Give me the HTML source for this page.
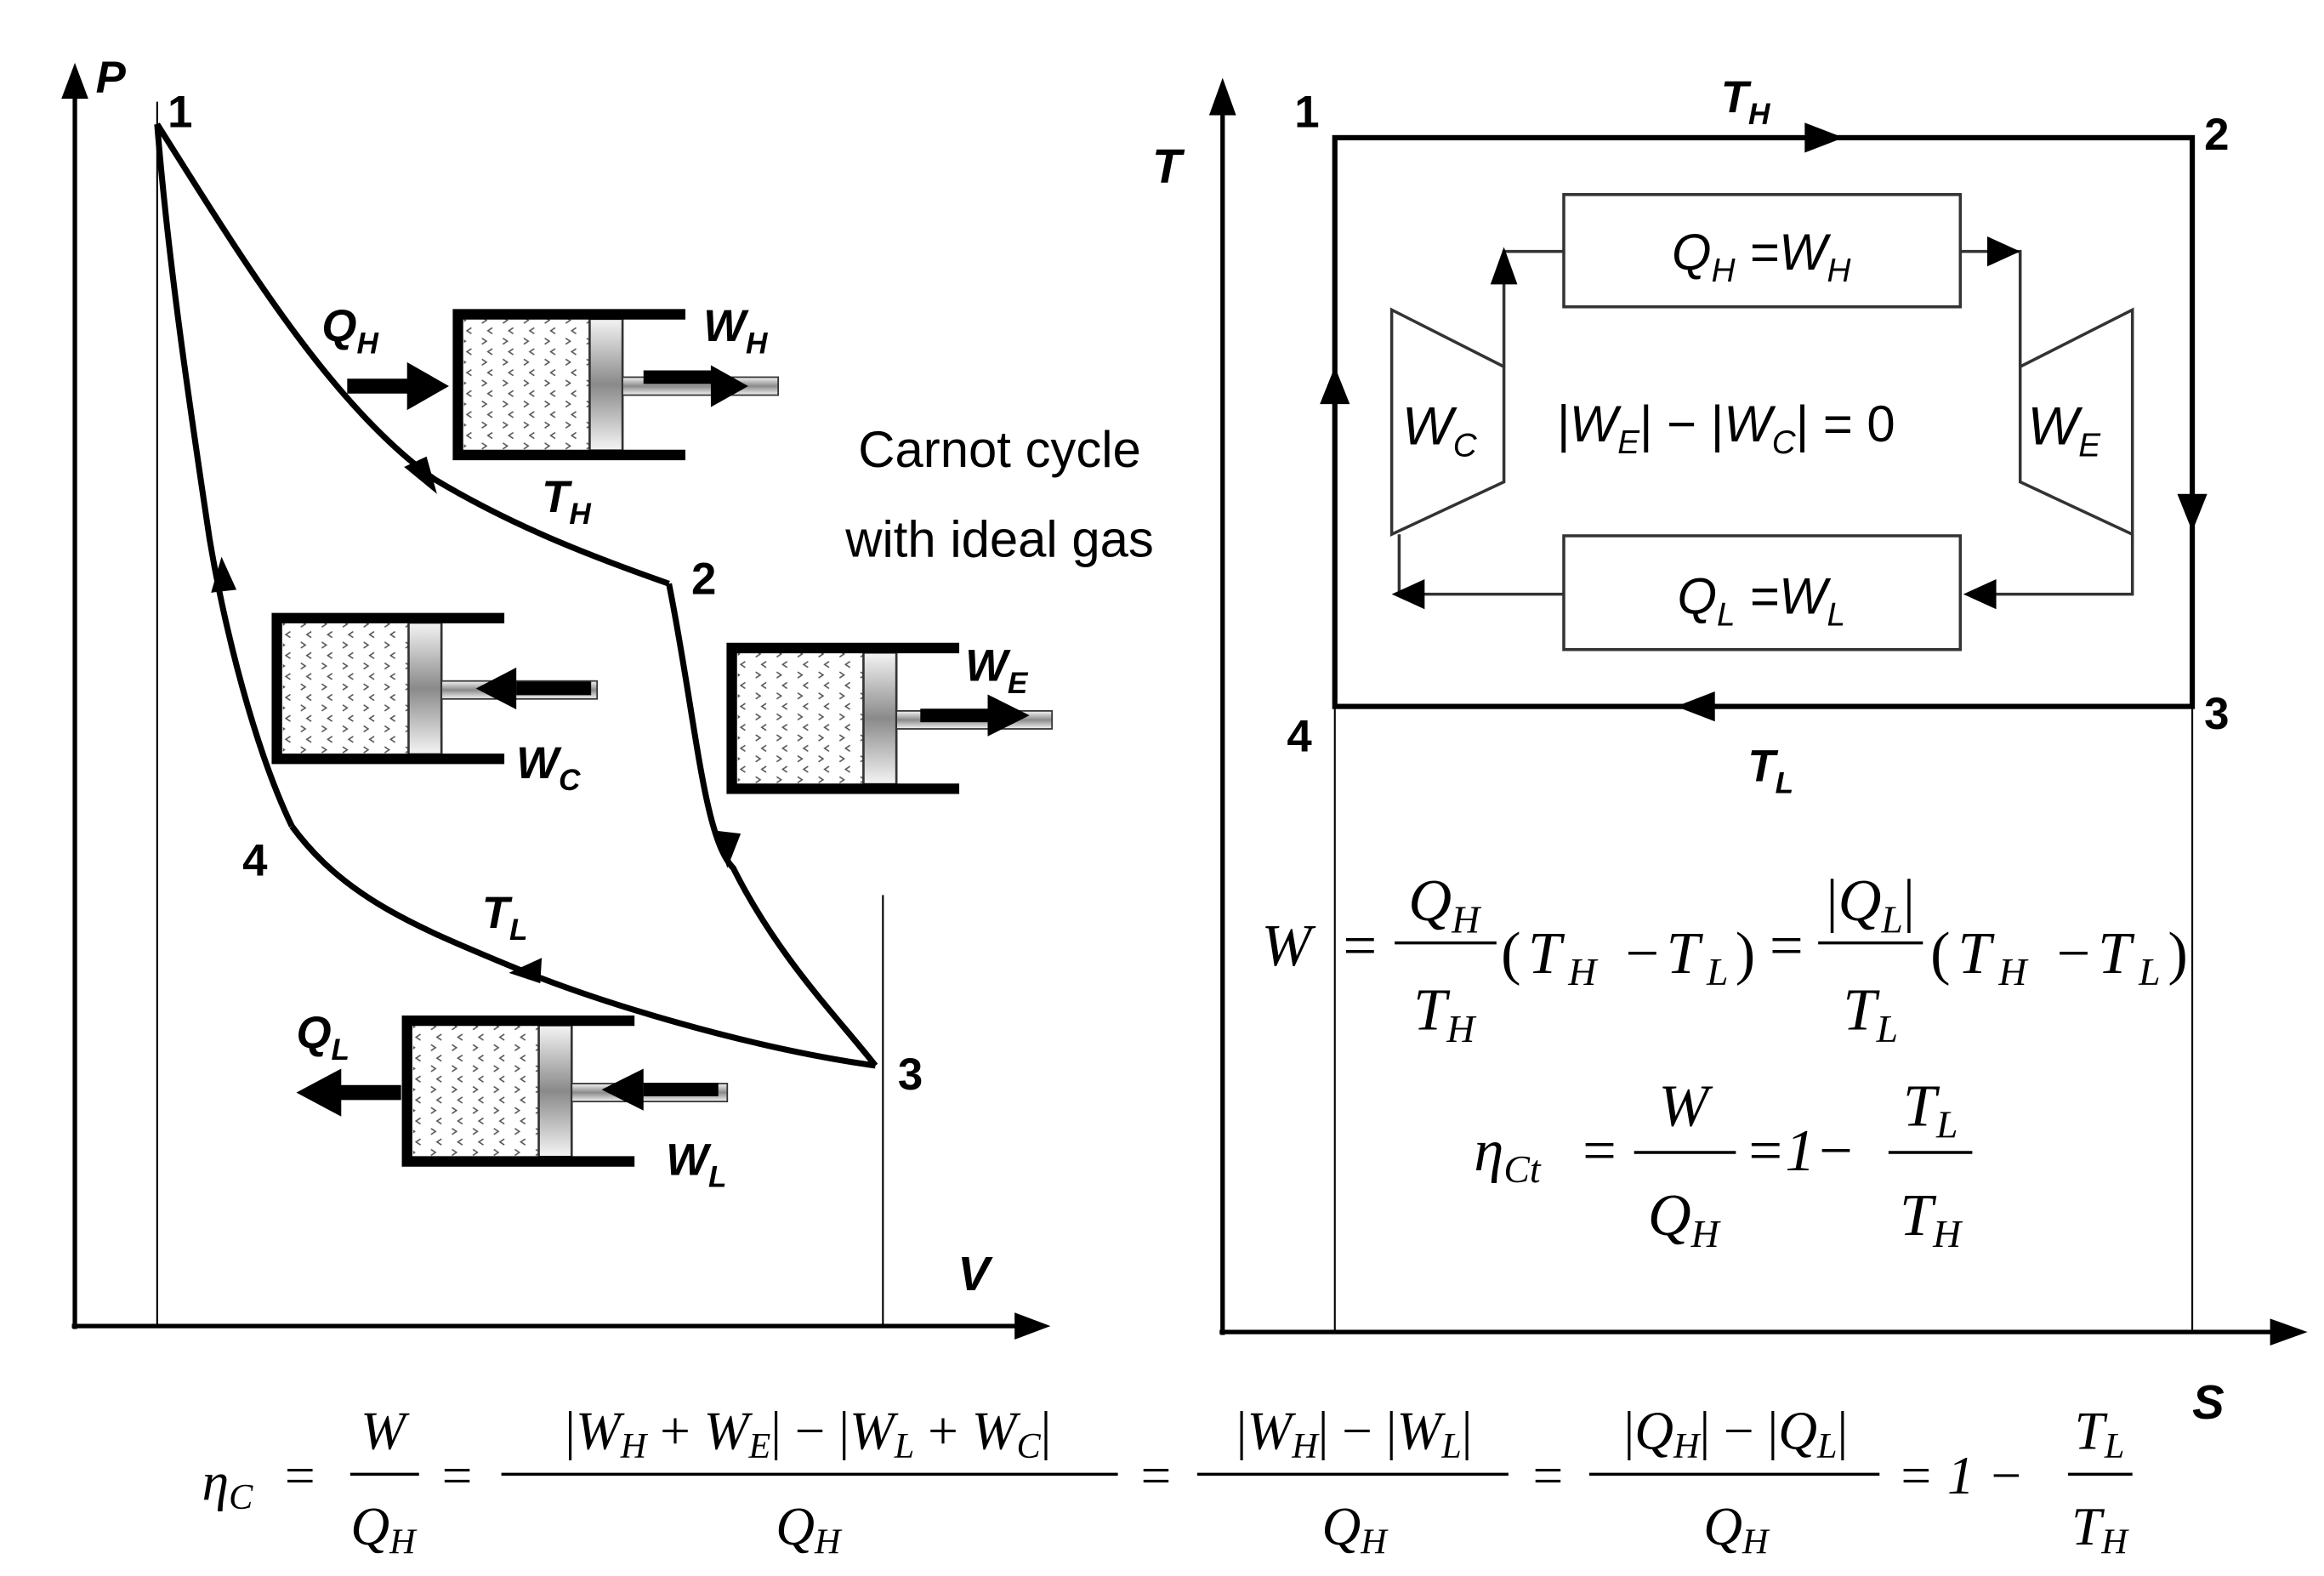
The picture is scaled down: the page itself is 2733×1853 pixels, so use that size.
<!DOCTYPE html>
<html><head><meta charset="utf-8"><style>
html,body{margin:0;padding:0;background:#fff;}
svg{display:block;}
.b{font-family:"Liberation Sans",sans-serif;font-weight:bold;font-style:italic;}
.s{font-family:"Liberation Sans",sans-serif;}
.m{font-family:"Liberation Serif",serif;font-style:italic;}
.r{font-family:"Liberation Serif",serif;}
</style></head><body>
<svg width="2733" height="1853" viewBox="0 0 1553 1053" xmlns="http://www.w3.org/2000/svg">
<defs>
<pattern id="gas" width="14" height="14" patternUnits="userSpaceOnUse">
<rect width="14" height="14" fill="#fff"/>
<path d="M2,2 l3,2 l-3,2 M9,9 l-3,2 l3,2" stroke="#555" stroke-width="0.9" fill="none"/>
</pattern>
<linearGradient id="pg" x1="0" y1="0" x2="0" y2="1">
<stop offset="0" stop-color="#f4f4f4"/><stop offset="0.5" stop-color="#8a8a8a"/><stop offset="1" stop-color="#f4f4f4"/>
</linearGradient>
<g id="cyl">
<rect x="4" y="3" width="84" height="88" fill="url(#gas)"/>
<rect x="88" y="3" width="22" height="88" fill="url(#pg)" stroke="#333" stroke-width="1.5"/>
<rect x="110" y="42" width="104" height="12" fill="url(#pg)" stroke="#333" stroke-width="1"/>
<path d="M152,0 H0 V94 H152" fill="none" stroke="#000" stroke-width="7"/>
</g>
</defs>

<!-- PV axes -->
<line x1="50" y1="888" x2="50" y2="62" stroke="#000" stroke-width="3"/>
<path d="M50,42 L41,66 L59,66 z"/>
<line x1="48" y1="886" x2="680" y2="886" stroke="#000" stroke-width="3"/>
<path d="M702,886 L678,877 L678,895 z"/>
<line x1="105" y1="68" x2="105" y2="886" stroke="#000" stroke-width="1.2"/>
<line x1="590" y1="598" x2="590" y2="886" stroke="#000" stroke-width="1.2"/>
<text x="64" y="62" class="b" font-size="30">P</text>
<text x="640" y="862" class="b" font-size="32">V</text>

<!-- PV cycle -->
<g fill="none" stroke="#000" stroke-width="4">
<path d="M105,83 C160,170 220,270 290,320 C340,350 390,370 447,390"/>
<path d="M447,390 C465,480 470,560 490,580 C520,640 560,680 585,712"/>
<path d="M585,712 C500,700 400,670 340,645 C280,620 230,600 195,552"/>
<path d="M195,552 C170,500 150,420 140,360 C125,260 112,170 105,83"/>
</g>
<path d="M292,330 L270,312 L285,305 z"/>
<path d="M486,580 L478,555 L495,557 z"/>
<path d="M340,650 L362,640 L361,657 z"/>
<path d="M148,372 L141,396 L158,394 z"/>
<text x="112" y="85" class="s" font-weight="bold" font-size="30">1</text>
<text x="462" y="397" class="s" font-weight="bold" font-size="30">2</text>
<text x="600" y="728" class="s" font-weight="bold" font-size="30">3</text>
<text x="162" y="585" class="s" font-weight="bold" font-size="30">4</text>
<text x="362" y="342" class="b" font-size="30">T<tspan font-size="20" dy="8">H</tspan></text>
<text x="322" y="620" class="b" font-size="30">T<tspan font-size="20" dy="8">L</tspan></text>

<!-- pistons -->
<use href="#cyl" transform="translate(306,210)"/>
<path d="M430,252 H480" stroke="#000" stroke-width="9"/><path d="M500,258 L475,244 L475,272 z"/>
<path d="M232,258 H275" stroke="#000" stroke-width="10"/><path d="M300,258 L272,242 L272,274 z"/>
<text x="215" y="228" class="b" font-size="30">Q<tspan font-size="20" dy="8">H</tspan></text>
<text x="470" y="228" class="b" font-size="30">W<tspan font-size="20" dy="8">H</tspan></text>

<use href="#cyl" transform="translate(185,413)"/>
<path d="M345,460 H395" stroke="#000" stroke-width="9"/><path d="M318,460 L345,446 L345,474 z"/>
<text x="345" y="520" class="b" font-size="30">W<tspan font-size="20" dy="8">C</tspan></text>

<use href="#cyl" transform="translate(489,433)"/>
<path d="M615,478 H665" stroke="#000" stroke-width="9"/><path d="M688,478 L660,464 L660,492 z"/>
<text x="645" y="455" class="b" font-size="30">W<tspan font-size="20" dy="8">E</tspan></text>

<use href="#cyl" transform="translate(272,682)"/>
<path d="M430,728 H480" stroke="#000" stroke-width="9"/><path d="M402,728 L430,714 L430,742 z"/>
<path d="M268,730 H225" stroke="#000" stroke-width="10"/><path d="M198,730 L228,714 L228,746 z"/>
<text x="198" y="700" class="b" font-size="30">Q<tspan font-size="20" dy="8">L</tspan></text>
<text x="445" y="785" class="b" font-size="30">W<tspan font-size="20" dy="8">L</tspan></text>

<text x="668" y="312" class="s" font-size="34" text-anchor="middle">Carnot cycle</text>
<text x="668" y="372" class="s" font-size="34" text-anchor="middle">with ideal gas</text>

<!-- TS axes -->
<line x1="817" y1="892" x2="817" y2="75" stroke="#000" stroke-width="3"/>
<path d="M817,52 L808,77 L826,77 z"/>
<line x1="815" y1="890" x2="1520" y2="890" stroke="#000" stroke-width="3"/>
<path d="M1542,890 L1517,881 L1517,899 z"/>
<text x="770" y="122" class="b" font-size="32">T</text>
<text x="1465" y="948" class="b" font-size="32">S</text>
<line x1="892" y1="470" x2="892" y2="890" stroke="#000" stroke-width="1.2"/>
<line x1="1465" y1="470" x2="1465" y2="890" stroke="#000" stroke-width="1.2"/>
<rect x="892" y="92" width="573" height="380" fill="none" stroke="#000" stroke-width="3.5"/>
<path d="M1232,92 L1206,82 L1206,102 z"/>
<path d="M1465,355 L1455,330 L1475,330 z"/>
<path d="M1120,472 L1146,462 L1146,482 z"/>
<path d="M892,245 L882,270 L902,270 z"/>
<text x="865" y="85" class="s" font-weight="bold" font-size="30">1</text>
<text x="1473" y="100" class="s" font-weight="bold" font-size="30">2</text>
<text x="1473" y="487" class="s" font-weight="bold" font-size="30">3</text>
<text x="860" y="502" class="s" font-weight="bold" font-size="30">4</text>
<text x="1150" y="75" class="b" font-size="30">T<tspan font-size="20" dy="8">H</tspan></text>
<text x="1168" y="522" class="b" font-size="30">T<tspan font-size="20" dy="8">L</tspan></text>

<!-- inner schematic -->
<g fill="none" stroke="#333" stroke-width="2">
<rect x="1045" y="130" width="265" height="75"/>
<rect x="1045" y="358" width="265" height="76"/>
<path d="M930,207 L1005,245 L1005,322 L930,357 z"/>
<path d="M1425,207 L1350,245 L1350,322 L1425,357 z"/>
<path d="M1005,245 V168 H1045"/>
<path d="M1310,168 H1350 V245"/>
<path d="M1425,357 V397 H1320"/>
<path d="M1045,397 H935 V357"/>
</g>
<path d="M1005,165 L996,190 L1014,190 z"/>
<path d="M1350,168 L1328,158 L1328,178 z"/>
<path d="M1312,397 L1334,387 L1334,407 z"/>
<path d="M930,397 L952,387 L952,407 z"/>
<text x="1177" y="180" class="s" font-style="italic" font-size="34" text-anchor="middle">Q<tspan font-size="22" dy="8">H</tspan><tspan dy="-8"> =W</tspan><tspan font-size="22" dy="8">H</tspan></text>
<text x="1177" y="410" class="s" font-style="italic" font-size="34" text-anchor="middle">Q<tspan font-size="22" dy="8">L</tspan><tspan dy="-8"> =W</tspan><tspan font-size="22" dy="8">L</tspan></text>
<text x="937" y="297" class="s" font-style="italic" font-size="36">W<tspan font-size="22" dy="8">C</tspan></text>
<text x="1355" y="297" class="s" font-style="italic" font-size="36">W<tspan font-size="22" dy="8">E</tspan></text>
<text x="1040" y="295" class="s" font-style="italic" font-size="34">|W<tspan font-size="22" dy="8">E</tspan><tspan dy="-8" font-style="normal">| − |</tspan>W<tspan font-size="22" dy="8">C</tspan><tspan dy="-8" font-style="normal">| = 0</tspan></text>

<!-- TS equations -->
<g class="m" font-size="40">
<text x="843" y="645">W</text>
<text x="895" y="645" class="r">=</text>
<text x="965" y="615" text-anchor="middle">Q<tspan font-size="26" dy="8">H</tspan></text>
<line x1="932" y1="630" x2="1000" y2="630" stroke="#000" stroke-width="2"/>
<text x="965" y="688" text-anchor="middle">T<tspan font-size="26" dy="8">H</tspan></text>
<text x="1003" y="650" textLength="170" lengthAdjust="spacing"><tspan font-style="normal">(</tspan>T<tspan font-size="26" dy="8">H</tspan><tspan dy="-8" font-style="normal"> −</tspan>T<tspan font-size="26" dy="8">L</tspan><tspan dy="-8" font-style="normal">)</tspan></text>
<text x="1180" y="645" class="r">=</text>
<text x="1250" y="615" text-anchor="middle"><tspan font-style="normal">|</tspan>Q<tspan font-size="26" dy="8">L</tspan><tspan dy="-8" font-style="normal">|</tspan></text>
<line x1="1215" y1="630" x2="1285" y2="630" stroke="#000" stroke-width="2"/>
<text x="1250" y="688" text-anchor="middle">T<tspan font-size="26" dy="8">L</tspan></text>
<text x="1290" y="650" textLength="172" lengthAdjust="spacing"><tspan font-style="normal">(</tspan>T<tspan font-size="26" dy="8">H</tspan><tspan dy="-8" font-style="normal"> −</tspan>T<tspan font-size="26" dy="8">L</tspan><tspan dy="-8" font-style="normal">)</tspan></text>

<text x="985" y="782">η<tspan font-size="26" dy="8">Ct</tspan></text>
<text x="1055" y="782" class="r">=</text>
<text x="1125" y="752" text-anchor="middle">W</text>
<line x1="1092" y1="770" x2="1160" y2="770" stroke="#000" stroke-width="2"/>
<text x="1125" y="825" text-anchor="middle">Q<tspan font-size="26" dy="8">H</tspan></text>
<text x="1166" y="782" class="r">=1−</text>
<text x="1290" y="752" text-anchor="middle">T<tspan font-size="26" dy="8">L</tspan></text>
<line x1="1262" y1="770" x2="1318" y2="770" stroke="#000" stroke-width="2"/>
<text x="1290" y="825" text-anchor="middle">T<tspan font-size="26" dy="8">H</tspan></text>
</g>

<!-- bottom equation -->
<g class="m" font-size="36">
<text x="135" y="1002">η<tspan font-size="24" dy="6">C</tspan></text>
<text x="188" y="998" class="r">=</text>
<text x="256" y="968" text-anchor="middle">W</text>
<line x1="234" y1="985" x2="280" y2="985" stroke="#000" stroke-width="2"/>
<text x="256" y="1032" text-anchor="middle">Q<tspan font-size="24" dy="6">H</tspan></text>
<text x="293" y="998" class="r">=</text>
<text x="540" y="968" text-anchor="middle"><tspan font-style="normal">|</tspan>W<tspan font-size="24" dy="6">H</tspan><tspan dy="-6" font-style="normal"> + </tspan>W<tspan font-size="24" dy="6">E</tspan><tspan dy="-6" font-style="normal">| − |</tspan>W<tspan font-size="24" dy="6">L</tspan><tspan dy="-6" font-style="normal"> + </tspan>W<tspan font-size="24" dy="6">C</tspan><tspan dy="-6" font-style="normal">|</tspan></text>
<line x1="335" y1="985" x2="747" y2="985" stroke="#000" stroke-width="2"/>
<text x="540" y="1032" text-anchor="middle">Q<tspan font-size="24" dy="6">H</tspan></text>
<text x="760" y="998" class="r">=</text>
<text x="905" y="968" text-anchor="middle"><tspan font-style="normal">|</tspan>W<tspan font-size="24" dy="6">H</tspan><tspan dy="-6" font-style="normal">| − |</tspan>W<tspan font-size="24" dy="6">L</tspan><tspan dy="-6" font-style="normal">|</tspan></text>
<line x1="800" y1="985" x2="1008" y2="985" stroke="#000" stroke-width="2"/>
<text x="905" y="1032" text-anchor="middle">Q<tspan font-size="24" dy="6">H</tspan></text>
<text x="1022" y="998" class="r">=</text>
<text x="1160" y="968" text-anchor="middle"><tspan font-style="normal">|</tspan>Q<tspan font-size="24" dy="6">H</tspan><tspan dy="-6" font-style="normal">| − |</tspan>Q<tspan font-size="24" dy="6">L</tspan><tspan dy="-6" font-style="normal">|</tspan></text>
<line x1="1062" y1="985" x2="1256" y2="985" stroke="#000" stroke-width="2"/>
<text x="1160" y="1032" text-anchor="middle">Q<tspan font-size="24" dy="6">H</tspan></text>
<text x="1268" y="998" class="r">= 1 −</text>
<text x="1403" y="968" text-anchor="middle">T<tspan font-size="24" dy="6">L</tspan></text>
<line x1="1382" y1="985" x2="1425" y2="985" stroke="#000" stroke-width="2"/>
<text x="1403" y="1032" text-anchor="middle">T<tspan font-size="24" dy="6">H</tspan></text>
</g>
</svg>
</body></html>
